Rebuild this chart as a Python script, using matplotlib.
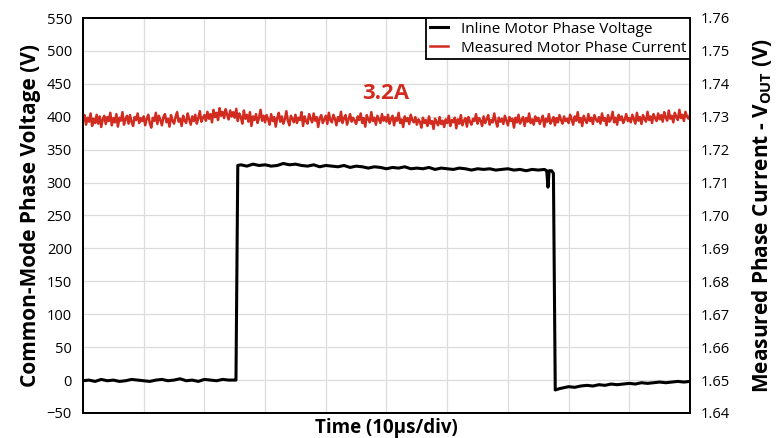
import matplotlib
matplotlib.use("Agg")
import matplotlib.pyplot as plt

plt.rcParams['font.family'] = ['Open Sans', 'DejaVu Sans']
plt.rcParams['mathtext.fontset'] = 'custom'
plt.rcParams['mathtext.bf'] = 'Open Sans:bold'
plt.rcParams['mathtext.rm'] = 'Open Sans'

# Inline motor phase voltage (V)
volt_t = [0.0, 0.1, 0.2, 0.3, 0.4, 0.5, 0.6, 0.7, 0.8, 0.9,
          1.0, 1.1, 1.2, 1.3, 1.4, 1.5, 1.6, 1.7, 1.8, 1.9,
          2.0, 2.1, 2.2, 2.3, 2.4, 2.5, 2.52, 2.55,
          2.6, 2.7, 2.8, 2.9, 3.0, 3.1, 3.2, 3.3, 3.4, 3.5,
          3.6, 3.7, 3.8, 3.9, 4.0, 4.1, 4.2, 4.3, 4.4, 4.5,
          4.6, 4.7, 4.8, 4.9, 5.0, 5.1, 5.2, 5.3, 5.4, 5.5,
          5.6, 5.7, 5.8, 5.9, 6.0, 6.1, 6.2, 6.3, 6.4, 6.5,
          6.6, 6.7, 6.8, 6.9, 7.0, 7.1, 7.2, 7.3, 7.4, 7.5, 7.6,
          7.64, 7.66, 7.68, 7.72, 7.75, 7.78, 7.85,
          7.9, 8.0, 8.1, 8.2, 8.3, 8.4, 8.5, 8.6, 8.7, 8.8, 8.9,
          9.0, 9.1, 9.2, 9.3, 9.4, 9.5, 9.6, 9.7, 9.8, 9.9, 10.0]
volt_v = [-1, 0, -2, 1, -1, 0, -2, -1, 1, 0,
          -1, -2, 0, 1, -1, 0, 2, -1, 0, -2,
          1, 0, -1, 1, 0, 0, 0, 326,
          327, 325, 328, 326, 327, 325, 326, 329, 327, 328,
          326, 325, 327, 324, 326, 325, 324, 326, 323, 325,
          324, 322, 324, 323, 321, 323, 322, 324, 321, 322,
          321, 323, 320, 322, 321, 320, 322, 321, 319, 321,
          320, 321, 319, 320, 321, 319, 320, 318, 320, 319, 320,
          318, 293, 318, 318, 314, -15, -13,
          -12, -10, -11, -9, -8, -9, -7, -8, -6, -7, -6,
          -5, -6, -4, -5, -4, -3, -4, -3, -2, -3, -2]

# Measured phase current sensor output VOUT (V), every 0.025 div
curr_t = [i * 0.025 for i in range(401)]
curr_v = [
    1.7288, 1.7305, 1.7276, 1.7297, 1.7285, 1.7310, 1.7272, 1.7294, 1.7281, 1.7306,
    1.7279, 1.7301, 1.7269, 1.7292, 1.7303, 1.7278, 1.7299, 1.7287, 1.7312, 1.7274,
    1.7296, 1.7283, 1.7308, 1.7270, 1.7297, 1.7288, 1.7314, 1.7276, 1.7292, 1.7303,
    1.7279, 1.7305, 1.7285, 1.7272, 1.7299, 1.7290, 1.7310, 1.7281, 1.7296, 1.7287,
    1.7301, 1.7274, 1.7294, 1.7306, 1.7281, 1.7267, 1.7297, 1.7287, 1.7312, 1.7278,
    1.7303, 1.7290, 1.7274, 1.7299, 1.7308, 1.7283, 1.7294, 1.7270, 1.7305, 1.7288,
    1.7279, 1.7299, 1.7314, 1.7285, 1.7294, 1.7272, 1.7303, 1.7288, 1.7281, 1.7310,
    1.7292, 1.7276, 1.7301, 1.7287, 1.7306, 1.7279, 1.7296, 1.7317, 1.7285, 1.7297,
    1.7305, 1.7288, 1.7315, 1.7294, 1.7308, 1.7283, 1.7321, 1.7299, 1.7312, 1.7290,
    1.7326, 1.7303, 1.7315, 1.7296, 1.7323, 1.7306, 1.7292, 1.7319, 1.7301, 1.7314,
    1.7297, 1.7324, 1.7287, 1.7310, 1.7299, 1.7279, 1.7319, 1.7294, 1.7306, 1.7285,
    1.7314, 1.7272, 1.7301, 1.7290, 1.7308, 1.7281, 1.7297, 1.7321, 1.7288, 1.7303,
    1.7283, 1.7305, 1.7292, 1.7276, 1.7308, 1.7287, 1.7299, 1.7270, 1.7296, 1.7312,
    1.7285, 1.7301, 1.7279, 1.7292, 1.7317, 1.7288, 1.7274, 1.7303, 1.7294, 1.7283,
    1.7306, 1.7281, 1.7297, 1.7290, 1.7314, 1.7272, 1.7301, 1.7287, 1.7279, 1.7308,
    1.7294, 1.7283, 1.7310, 1.7288, 1.7299, 1.7269, 1.7296, 1.7305, 1.7281, 1.7292,
    1.7303, 1.7278, 1.7312, 1.7290, 1.7283, 1.7306, 1.7294, 1.7274, 1.7299, 1.7287,
    1.7315, 1.7281, 1.7296, 1.7305, 1.7276, 1.7292, 1.7308, 1.7285, 1.7297, 1.7288,
    1.7278, 1.7301, 1.7290, 1.7310, 1.7281, 1.7296, 1.7270, 1.7305, 1.7292, 1.7283,
    1.7314, 1.7287, 1.7297, 1.7276, 1.7303, 1.7292, 1.7281, 1.7308, 1.7288, 1.7299,
    1.7285, 1.7306, 1.7279, 1.7294, 1.7303, 1.7274, 1.7297, 1.7288, 1.7312, 1.7281,
    1.7292, 1.7269, 1.7301, 1.7287, 1.7296, 1.7278, 1.7306, 1.7290, 1.7283, 1.7299,
    1.7276, 1.7292, 1.7285, 1.7267, 1.7297, 1.7281, 1.7290, 1.7272, 1.7301, 1.7279,
    1.7287, 1.7263, 1.7294, 1.7283, 1.7274, 1.7299, 1.7278, 1.7288, 1.7269, 1.7292,
    1.7281, 1.7303, 1.7272, 1.7290, 1.7283, 1.7297, 1.7265, 1.7292, 1.7279, 1.7305,
    1.7274, 1.7288, 1.7296, 1.7270, 1.7299, 1.7285, 1.7276, 1.7294, 1.7287, 1.7308,
    1.7279, 1.7296, 1.7288, 1.7272, 1.7301, 1.7281, 1.7292, 1.7305, 1.7276, 1.7290,
    1.7283, 1.7310, 1.7287, 1.7270, 1.7297, 1.7285, 1.7294, 1.7278, 1.7303, 1.7288,
    1.7274, 1.7299, 1.7287, 1.7294, 1.7267, 1.7297, 1.7283, 1.7306, 1.7279, 1.7290,
    1.7299, 1.7272, 1.7296, 1.7285, 1.7310, 1.7281, 1.7292, 1.7276, 1.7301, 1.7287,
    1.7297, 1.7278, 1.7290, 1.7303, 1.7270, 1.7294, 1.7285, 1.7308, 1.7279, 1.7288,
    1.7299, 1.7274, 1.7296, 1.7283, 1.7305, 1.7290, 1.7279, 1.7301, 1.7287, 1.7294,
    1.7281, 1.7306, 1.7292, 1.7276, 1.7301, 1.7288, 1.7314, 1.7283, 1.7296, 1.7272,
    1.7303, 1.7290, 1.7281, 1.7308, 1.7287, 1.7297, 1.7278, 1.7305, 1.7292, 1.7285,
    1.7299, 1.7279, 1.7310, 1.7288, 1.7296, 1.7274, 1.7305, 1.7285, 1.7294, 1.7315,
    1.7283, 1.7297, 1.7276, 1.7306, 1.7290, 1.7301, 1.7281, 1.7292, 1.7308, 1.7287,
    1.7296, 1.7283, 1.7306, 1.7292, 1.7279, 1.7312, 1.7288, 1.7299, 1.7278, 1.7305,
    1.7294, 1.7285, 1.7315, 1.7290, 1.7301, 1.7281, 1.7308, 1.7296, 1.7287, 1.7310,
    1.7292, 1.7305, 1.7285, 1.7314, 1.7297, 1.7288, 1.7319, 1.7294, 1.7303, 1.7283,
    1.7312, 1.7299, 1.7290, 1.7321, 1.7296, 1.7306, 1.7287, 1.7315, 1.7301, 1.7294,
    1.7306]

left_ticks = list(range(-50, 551, 50))
right_ticks = [1.64, 1.65, 1.66, 1.67, 1.68, 1.69, 1.70, 1.71, 1.72, 1.73, 1.74, 1.75, 1.76]

red = '#d22b1f'

fig = plt.figure(figsize=(7.79, 4.38), dpi=100)
ax = fig.add_axes([83 / 779, 25 / 438, 607 / 779, 395 / 438])
ax2 = ax.twinx()

l1, = ax.plot(volt_t, volt_v, color='black', lw=2.2, label='Inline Motor Phase Voltage')
l2, = ax2.plot(curr_t, curr_v, color=red, lw=1.8, label='Measured Motor Phase Current')

ax.set_xlim(0, 10)
ax.set_ylim(-50, 550)
ax2.set_ylim(1.64, 1.76)
ax.set_xticks(range(0, 11))
ax.set_xticklabels([])
ax.set_yticks(left_ticks)
ax2.set_yticks(right_ticks)
ax2.set_yticklabels(['%.2f' % v for v in right_ticks])
ax.grid(True, color='#dcdcdc', lw=0.9)
ax.set_axisbelow(True)
for a in (ax, ax2):
    a.tick_params(length=0, labelsize=10.5, pad=8)
    for s in a.spines.values():
        s.set_linewidth(1.3)
        s.set_color('black')

ax.set_ylabel('Common-Mode Phase Voltage (V)', fontsize=15, fontweight='bold', labelpad=4)
ax2.set_ylabel(r'Measured Phase Current - $\mathbf{V_{OUT}}$ (V)', fontsize=15,
               fontweight='bold', labelpad=14)
fig.text(386 / 779, 0, 'Time (10\u00b5s/div)', fontsize=13.5, fontweight='bold',
         ha='center', va='bottom')

ax2.text(4.98, 1.737, '3.2A', color=red, fontsize=16, fontweight='bold',
         ha='center', va='center')

leg = ax2.legend(handles=[l1, l2], loc='upper right', fontsize=11, borderaxespad=0,
                 fancybox=False, framealpha=1, edgecolor='black', handlelength=1.2,
                 borderpad=0.25, labelspacing=0.25)
leg.get_frame().set_linewidth(1.3)

fig.savefig('out.png', dpi=100)
